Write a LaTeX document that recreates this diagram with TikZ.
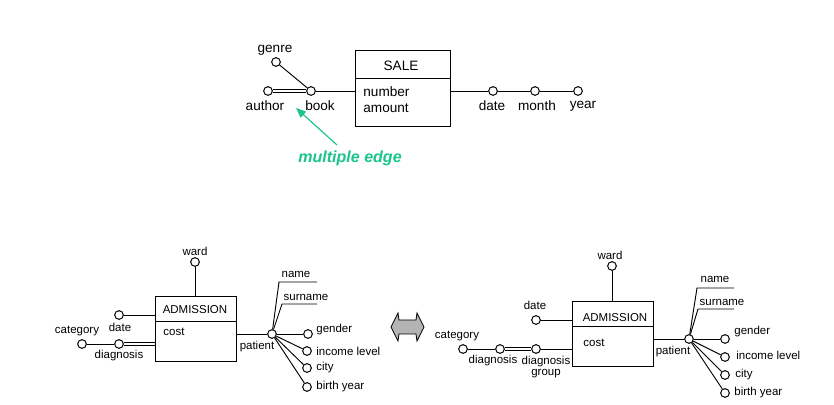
\documentclass[tikz,border=0pt]{standalone}
\usepackage{fontspec}
\setmainfont{Liberation Sans}
\usetikzlibrary{arrows.meta,calc}
\definecolor{EdgeGreen}{HTML}{1AC48C}
\definecolor{ArrowGrey}{HTML}{B4B4B4}
\tikzset{
  attr/.style={circle,draw,fill=white,line width=0.85pt,minimum size=2.6mm,inner sep=0pt},
  fact/.style={draw,line width=0.8pt,inner sep=0pt},
  big/.style={font=\fontsize{11.6}{13}\selectfont,inner sep=1pt},
  small/.style={font=\fontsize{9.8}{11}\selectfont,inner sep=1pt,align=center},
  link/.style={line width=0.8pt},
  multi/.style={double,double distance=1.5pt,line width=0.65pt}
}
\begin{document}
\begin{tikzpicture}[x=0.03cm,y=-0.03cm]
  \useasboundingbox (0,0) rectangle (834,405);
  % sales fact
  \node[fact,minimum width=2.85cm,minimum height=2.28cm] (sale) at (403,88) {};
  \draw[link] ($(sale.north west)+(0,29)$) -- ($(sale.north east)+(0,29)$);
  \node[big] (saletitle) at (401,66) {SALE};
  \node[big,anchor=west] (number) at (362,92) {number};
  \node[big,anchor=west] (amount) at (362,108) {amount};
  \node[attr] (genre) at (276,62) {};
  \node[attr] (author) at (268,91) {};
  \node[attr] (book) at (311,91) {};
  \node[attr] (date) at (493,91) {};
  \node[attr] (month) at (535,91) {};
  \node[attr] (year) at (578,91) {};
  \node[big] (genrelab) at (275,50) {genre};
  \node[big] (authorlab) at (265,106) {author};
  \node[big] (booklab) at (320,106) {book};
  \node[big] (datelab) at (492,106) {date};
  \node[big] (monthlab) at (537,106) {month};
  \node[big] (yearlab) at (583,106) {year};
  \draw[link] (genre) -- (book);
  \draw[multi] (author) -- (book);
  \draw[link] (book) -- (book -| sale.west);
  \draw[link] (sale.east |- date) -- (date);
  \draw[link] (date) -- (month);
  \draw[link] (month) -- (year);
  \node[font=\fontsize{13.7}{15}\selectfont\bfseries\itshape,text=EdgeGreen] (medge) at (350,158) {multiple edge};
  \coordinate (medgefrom) at (337,145);
  \coordinate (medgetip) at (296,108);
  \draw[-{Triangle[length=3mm,width=2.4mm]},EdgeGreen,line width=1pt] (medgefrom) -- (medgetip);

  % admission, first version
  \node[fact,minimum width=2.41cm,minimum height=1.95cm] (ladm) at (196,329) {};
  \draw[link] ($(ladm.north west)+(0,25)$) -- ($(ladm.north east)+(0,25)$);
  \node[small] (ladmtitle) at (195,310) {ADMISSION};
  \node[small,anchor=west] (lcost) at (162,332) {cost};
  \node[attr] (lward) at (195,262) {};
  \node[attr] (ldate) at (119,315) {};
  \node[attr] (lcat) at (82,344) {};
  \node[attr] (ldiag) at (119,344) {};
  \node[attr] (lpatient) at (272,334) {};
  \node[attr] (lgender) at (308,334) {};
  \node[attr] (lincome) at (307,351) {};
  \node[attr] (lcity) at (307,368) {};
  \node[attr] (lbirth) at (307,387) {};
  \coordinate (lname) at (279,282);
  \coordinate (lnameend) at (317,282);
  \coordinate (lsurname) at (282,304);
  \coordinate (lsurnameend) at (317,304);
  \node[small] (lwardlab) at (195,251) {ward};
  \node[small] (ldatelab) at (120,327) {date};
  \node[small] (lcatlab) at (77,331) {category};
  \node[small] (ldiaglab) at (119,356) {diagnosis};
  \node[small] (lpatientlab) at (257,347) {patient};
  \node[small] (lnamelab) at (296,274) {name};
  \node[small] (lsurnamelab) at (306,297) {surname};
  \node[small,anchor=west] (lgenderlab) at (315,330) {gender};
  \node[small,anchor=west] (lincomelab) at (315,351) {income level};
  \node[small,anchor=west] (lcitylab) at (315,368) {city};
  \node[small,anchor=west] (lbirthlab) at (315,387) {birth year};
  \draw[link] (lward) -- (lward |- ladm.north);
  \draw[link] (ldate) -- (ldate -| ladm.west);
  \draw[link] (lcat) -- (ldiag);
  \draw[multi] (ldiag) -- (ldiag -| ladm.west);
  \draw[link] (ladm.east |- lpatient) -- (lpatient);
  \draw[link] (lpatient) -- (lname) -- (lnameend);
  \draw[link] (lpatient) -- (lsurname) -- (lsurnameend);
  \draw[link] (lpatient) -- (lgender);
  \draw[link] (lpatient) -- (lincome);
  \draw[link] (lpatient) -- (lcity);
  \draw[link] (lpatient) -- (lbirth);

  % double arrow between the versions
  \draw[fill=ArrowGrey,line width=0.7pt] (391,327) -- (398,313) -- (399,320) -- (416,320)
    -- (417,313) -- (424,327) -- (417,341) -- (416,334) -- (399,334) -- (398,341) -- cycle;

  % admission, second version
  \node[fact,minimum width=2.43cm,minimum height=1.97cm] (radm) at (613,334) {};
  \draw[link] ($(radm.north west)+(0,26)$) -- ($(radm.north east)+(0,26)$);
  \node[small] (radmtitle) at (615,318) {ADMISSION};
  \node[small,anchor=west] (rcost) at (582,343) {cost};
  \node[attr] (rward) at (612,266) {};
  \node[attr] (rdate) at (536,320) {};
  \node[attr] (rcat) at (463,349) {};
  \node[attr] (rdiag) at (500,349) {};
  \node[attr] (rgroup) at (536,349) {};
  \node[attr] (rpatient) at (689,339) {};
  \node[attr] (rgender) at (725,339) {};
  \node[attr] (rincome) at (725,357) {};
  \node[attr] (rcity) at (725,375) {};
  \node[attr] (rbirth) at (725,393) {};
  \coordinate (rname) at (697,288);
  \coordinate (rnameend) at (734,288);
  \coordinate (rsurname) at (698,309);
  \coordinate (rsurnameend) at (734,309);
  \node[small] (rwardlab) at (610,255) {ward};
  \node[small] (rdatelab) at (535,305) {date};
  \node[small] (rcatlab) at (457,336) {category};
  \node[small] (rdiaglab) at (493,361) {diagnosis};
  \node[small] (rgrouplab) at (546,367) {diagnosis\\[-2pt]group};
  \node[small] (rpatientlab) at (673,352) {patient};
  \node[small] (rnamelab) at (715,279) {name};
  \node[small] (rsurnamelab) at (722,302) {surname};
  \node[small,anchor=west] (rgenderlab) at (733,332) {gender};
  \node[small,anchor=west] (rincomelab) at (735,355) {income level};
  \node[small,anchor=west] (rcitylab) at (734,375) {city};
  \node[small,anchor=west] (rbirthlab) at (733,393) {birth year};
  \draw[link] (rward) -- (rward |- radm.north);
  \draw[link] (rdate) -- (rdate -| radm.west);
  \draw[link] (rcat) -- (rdiag);
  \draw[multi] (rdiag) -- (rgroup);
  \draw[link] (rgroup) -- (rgroup -| radm.west);
  \draw[link] (radm.east |- rpatient) -- (rpatient);
  \draw[link] (rpatient) -- (rname) -- (rnameend);
  \draw[link] (rpatient) -- (rsurname) -- (rsurnameend);
  \draw[link] (rpatient) -- (rgender);
  \draw[link] (rpatient) -- (rincome);
  \draw[link] (rpatient) -- (rcity);
  \draw[link] (rpatient) -- (rbirth);
\end{tikzpicture}
\end{document}
